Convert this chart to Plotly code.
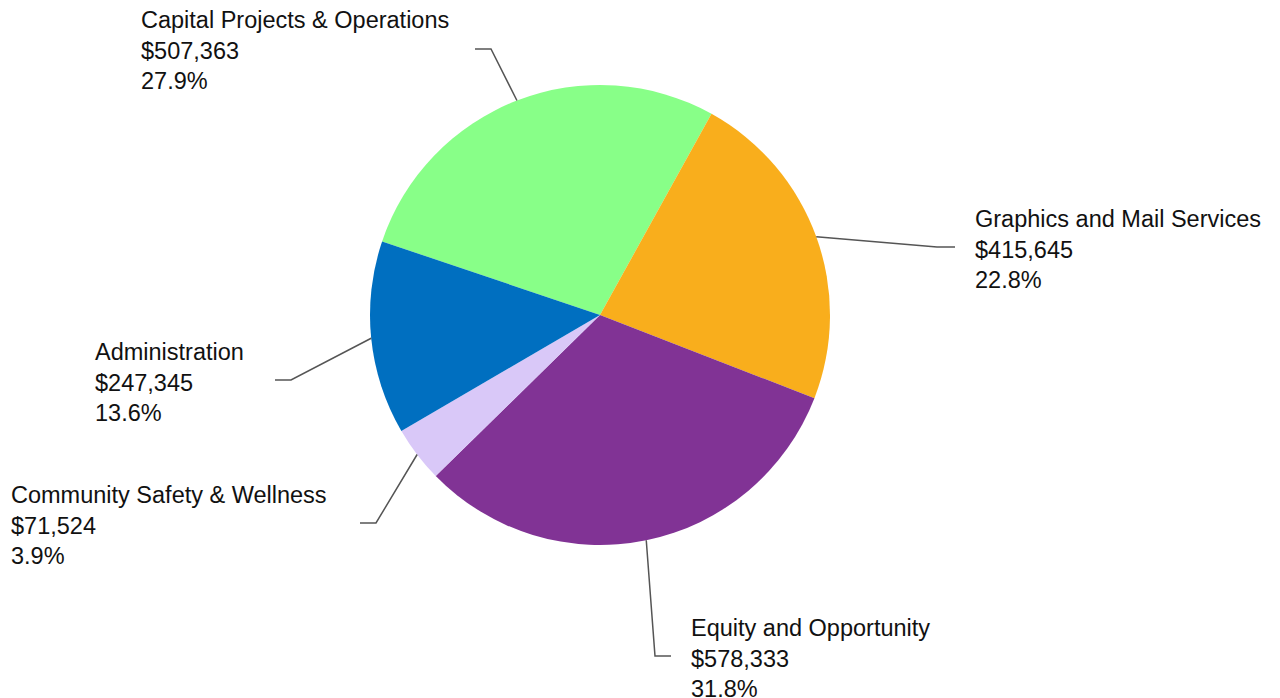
import math
import plotly.graph_objects as go

# ---- data ----
categories = ["Capital Projects & Operations", "Graphics and Mail Services",
              "Equity and Opportunity", "Community Safety & Wellness", "Administration"]
values = [507363, 415645, 578333, 71524, 247345]
colors = ["#88FF88", "#F9AE1C", "#813395", "#D9C8F8", "#006FC0"]

# ---- layout (pixels) ----
W, H = 1280, 698
CX, CY, R = 600, 315, 230
START_ANGLE = 29  # where the second slice (Graphics) begins, clockwise from 12 o'clock
# label layout: elbow (x, y), end-of-leader x, text left x
label_layout = [
    dict(elbow=(491, 49), end_x=475, text_x=141),
    dict(elbow=(937, 247), end_x=955, text_x=975),
    dict(elbow=(655, 656), end_x=671, text_x=691),
    dict(elbow=(376, 523), end_x=360, text_x=11),
    dict(elbow=(291, 380), end_x=275, text_x=95),
]

total = sum(values)
rotation = START_ANGLE - 360 * values[0] / total


def px(x):
    return x / W


def py(y):
    return 1 - y / H


fig = go.Figure(go.Pie(
    labels=categories,
    values=values,
    sort=False,
    direction="clockwise",
    rotation=rotation,
    marker=dict(colors=colors, line=dict(width=0)),
    textinfo="none",
    hoverinfo="label+value+percent",
    showlegend=False,
    domain=dict(x=[px(CX - R), px(CX + R)], y=[py(CY + R), py(CY - R)]),
))

shapes = []
annotations = []
cum = 0
for cat, val, lay in zip(categories, values, label_layout):
    mid = rotation + 360 * (cum + val / 2) / total
    cum += val
    a = math.radians(mid)
    sx = CX + R * math.sin(a)
    sy = CY - R * math.cos(a)
    ex, ey = lay["elbow"]
    path = "M {} {} L {} {} L {} {}".format(px(sx), py(sy), px(ex), py(ey), px(lay["end_x"]), py(ey))
    shapes.append(dict(type="path", xref="paper", yref="paper", path=path,
                       line=dict(color="#555555", width=1.5)))
    pct = 100 * val / total
    annotations.append(dict(
        xref="paper", yref="paper", x=px(lay["text_x"] - 2), y=py(ey + 2),
        xanchor="left", yanchor="middle", align="left", showarrow=False,
        text="{}<br>${:,}<br>{:.1f}%".format(cat, val, pct),
        font=dict(family="Arial, Liberation Sans, sans-serif", size=23.5, color="#111111"),
    ))

fig.update_layout(
    width=W, height=H,
    margin=dict(l=0, r=0, t=0, b=0),
    paper_bgcolor="white", plot_bgcolor="white",
    shapes=shapes, annotations=annotations,
)

fig.write_html("out.html", config={"displayModeBar": False},
               post_script="document.body.style.margin='0';")
